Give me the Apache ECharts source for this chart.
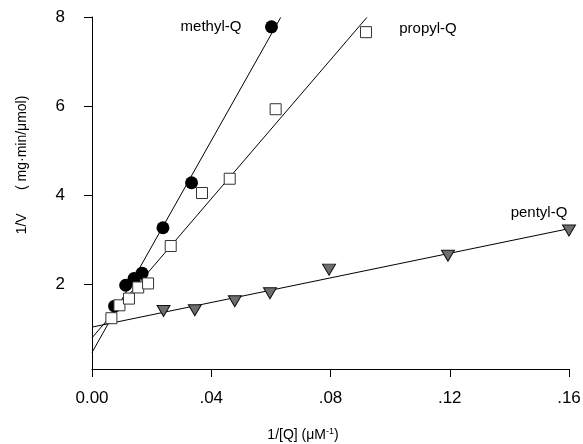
<!DOCTYPE html>
<html>
<head>
<meta charset="utf-8">
<script src="https://cdn.jsdelivr.net/npm/echarts@6/dist/echarts.min.js"></script>
<style>
  html, body { margin: 0; padding: 0; background: #fff; }
  #main { width: 583px; height: 444px; }
</style>
</head>
<body>
<div id="main"></div>
<script>
// 数据点 (x = 1/[Q], y = 1/V)
var methylPts = [[0.0076, 1.51], [0.0113, 1.98], [0.0141, 2.13], [0.0168, 2.25], [0.0238, 3.27], [0.0334, 4.28], [0.0602, 7.78]];
var propylPts = [[0.0065, 1.24], [0.0092, 1.53], [0.0124, 1.68], [0.0155, 1.93], [0.0188, 2.02], [0.0264, 2.86], [0.0369, 4.05], [0.0462, 4.37], [0.0616, 5.93], [0.0919, 7.66]];
var pentylPts = [[0.0240, 1.40], [0.0345, 1.42], [0.0479, 1.62], [0.0597, 1.80], [0.0795, 2.33], [0.1194, 2.64], [0.1600, 3.21]];

// 拟合直线端点
var methylFit = [[0, 0.47], [0.0633, 7.99]];
var propylFit = [[0, 0.80], [0.0922, 7.99]];
var pentylFit = [[0, 1.04], [0.1600, 3.25]];

var xTicks = [0, 0.04, 0.08, 0.12, 0.16];
var yTicks = [2, 4, 6, 8];

var chart = echarts.init(document.getElementById('main'));

var font = 'Liberation Sans, Arial, sans-serif';

function fitLine(pts) {
    return {
        type: 'line',
        data: pts,
        symbol: 'none',
        silent: true,
        lineStyle: { color: '#000', width: 1 },
        z: 1
    };
}

var option = {
    animation: false,
    backgroundColor: '#fff',
    grid: {
        left: 92, right: 14, top: 17, bottom: 75,
        containLabel: false,
        outerBoundsMode: 'none'
    },
    xAxis: {
        type: 'value',
        min: 0,
        max: 0.16,
        interval: 0.04,
        axisLine: { show: true, lineStyle: { color: '#000', width: 1 } },
        axisTick: { show: true, length: 8, lineStyle: { color: '#000' } },
        splitLine: { show: false },
        axisLabel: {
            color: '#000',
            fontFamily: font,
            fontSize: 17,
            margin: 21,
            formatter: function (v) {
                if (v === 0) return '0.00';
                return '.' + v.toFixed(2).slice(2);
            }
        }
    },
    yAxis: {
        type: 'value',
        min: 0.1,
        max: 8,
        axisLine: { show: true, lineStyle: { color: '#000', width: 1 } },
        axisTick: { show: true, length: 8, customValues: yTicks, lineStyle: { color: '#000' } },
        splitLine: { show: false },
        axisLabel: {
            color: '#000',
            fontFamily: font,
            fontSize: 17,
            margin: 27,
            customValues: yTicks
        }
    },
    graphic: [
        {
            type: 'text',
            x: 22, y: 165,
            rotation: Math.PI / 2,
            style: {
                text: '1/V      ( mg·min/μmol)',
                fill: '#000',
                font: '14px ' + font,
                align: 'center',
                verticalAlign: 'middle'
            }
        },
        {
            type: 'text',
            x: 303, y: 435,
            style: {
                text: '{a|1/[Q] (μM}{s|-1}{a|)}',
                rich: {
                    a: { fontSize: 14, fontFamily: font, fill: '#000' },
                    s: { fontSize: 9, fontFamily: font, fill: '#000', verticalAlign: 'top', padding: [0, 0, 6, 0] }
                },
                align: 'center',
                verticalAlign: 'middle'
            }
        },
        {
            type: 'text', x: 211, y: 27,
            style: { text: 'methyl-Q', fill: '#000', font: '15px ' + font, align: 'center', verticalAlign: 'middle' }
        },
        {
            type: 'text', x: 428, y: 29,
            style: { text: 'propyl-Q', fill: '#000', font: '15px ' + font, align: 'center', verticalAlign: 'middle' }
        },
        {
            type: 'text', x: 539, y: 213,
            style: { text: 'pentyl-Q', fill: '#000', font: '15px ' + font, align: 'center', verticalAlign: 'middle' }
        }
    ],
    series: [
        fitLine(methylFit),
        fitLine(propylFit),
        fitLine(pentylFit),
        {
            name: 'methyl-Q',
            type: 'scatter',
            data: methylPts,
            symbol: 'circle',
            symbolSize: 13,
            itemStyle: { color: '#000', opacity: 1 },
            z: 2
        },
        {
            name: 'propyl-Q',
            type: 'scatter',
            data: propylPts,
            symbol: 'rect',
            symbolSize: 11,
            itemStyle: { color: '#fff', borderColor: '#333', borderWidth: 1, opacity: 1 },
            z: 3
        },
        {
            name: 'pentyl-Q',
            type: 'scatter',
            data: pentylPts,
            symbol: 'triangle',
            symbolRotate: 180,
            symbolSize: [13, 11],
            itemStyle: { color: '#6e6e6e', borderColor: '#111', borderWidth: 1, opacity: 1 },
            z: 3
        }
    ]
};

chart.setOption(option);
</script>
</body>
</html>
